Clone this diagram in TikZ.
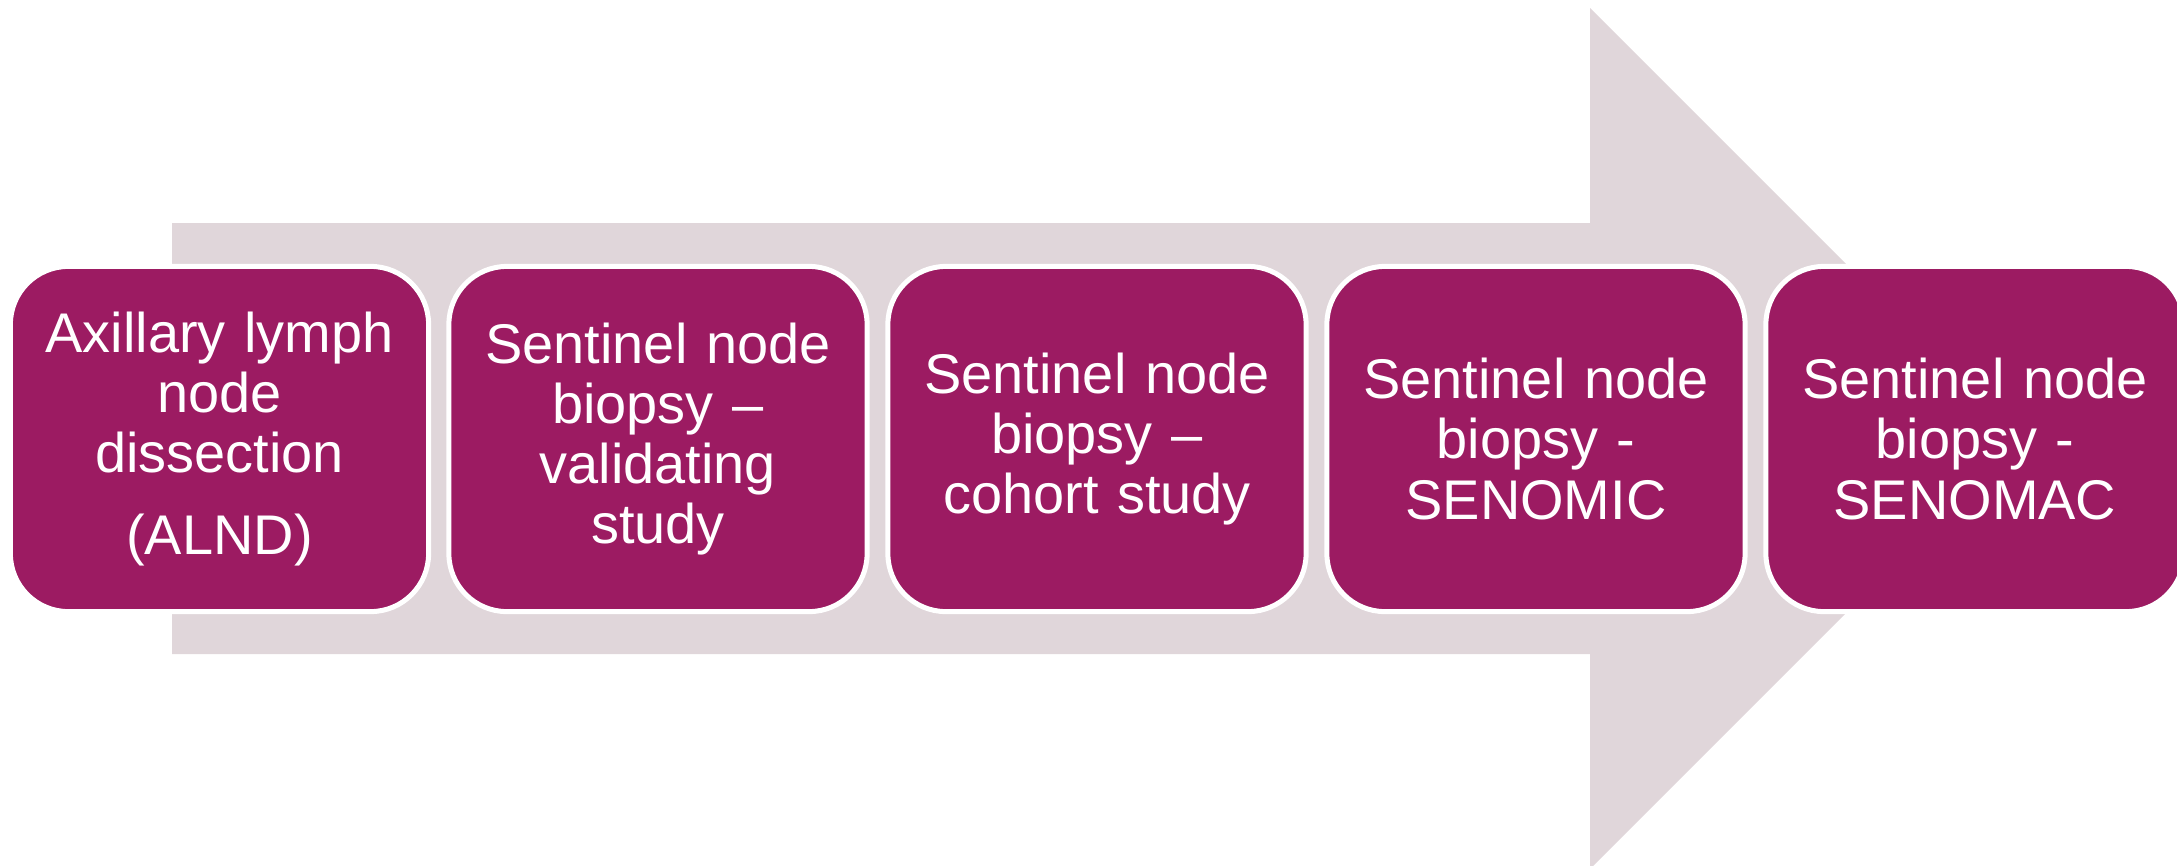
\documentclass[tikz,border=0pt]{standalone}
\usepackage{fontspec}
\setmainfont{Liberation Sans}
\definecolor{boxfill}{RGB}{156,27,98}
\definecolor{arrowfill}{RGB}{224,214,218}
\begin{document}
\begin{tikzpicture}[x=0.01cm,y=-0.01cm,
  stagebox/.style={draw=white, line width=0.05cm, fill=boxfill, rounded corners=0.58cm,
    minimum width=4.18cm, minimum height=3.45cm, inner sep=0pt, text width=3.9cm,
    align=center, text=white, font=\fontsize{15.9pt}{17.07pt}\selectfont}]
\useasboundingbox (0,0) rectangle (2177,866);
\clip (0,0) rectangle (2177,866);
\fill[arrowfill] (172,223) -- (1590,223) -- (1590,8) -- (2020.5,438.5) -- (1590,869) -- (1590,654) -- (172,654) -- cycle;
\node[stagebox] (b1) at (219.5,439) {Axillary lymph\\node\\dissection\\[6.5pt](ALND)};
\node[stagebox] (b2) at (658,439) {Sentinel node\\biopsy –\\validating\\study};
\node[stagebox] (b3) at (1097,439) {Sentinel node\\biopsy –\\cohort study};
\node[stagebox] (b4) at (1536,439) {Sentinel node\\biopsy -\\SENOMIC};
\node[stagebox] (b5) at (1975,439) {Sentinel node\\biopsy -\\SENOMAC};
\end{tikzpicture}
\end{document}
